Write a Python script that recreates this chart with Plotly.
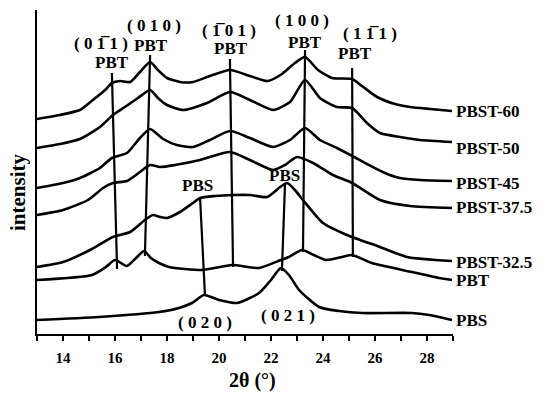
import plotly.graph_objects as go

# ---- data (2theta in degrees, intensity in arbitrary units, stacked) ----
x_60 = [13.00, 13.88, 14.65, 15.15, 15.62, 15.88, 16.19, 16.58, 16.96, 17.35, 17.65, 18.00, 18.50, 19.00,
        19.65, 20.42, 21.19, 21.88, 22.42, 22.92, 23.31, 23.81, 24.35, 25.12, 25.50, 26.08, 26.77, 27.35, 28.12, 28.96]
y_60 = [215, 219, 224, 234, 244, 251, 253, 252, 262, 272, 264, 256, 252, 252,
        258, 264, 258, 253, 260, 271, 277, 264, 256, 255, 248, 237, 230, 227, 225, 223]

x_50 = [13.00, 13.88, 14.65, 15.42, 15.92, 16.38, 16.88, 17.35, 17.65, 18.00, 18.62, 19.54, 20.42, 21.19,
        22.08, 22.73, 23.31, 23.88, 24.54, 25.12, 25.69, 26.19, 26.96, 27.73, 28.96]
y_50 = [186, 190, 195, 207, 219, 227, 236, 244, 236, 229, 224, 231, 242, 234,
        224, 232, 254, 236, 227, 226, 211, 201, 197, 194, 192]

x_45 = [13.00, 14.00, 14.65, 15.42, 15.88, 16.46, 16.96, 17.35, 17.85, 18.38, 19.00, 19.65, 20.42, 21.19,
        22.08, 22.73, 23.31, 23.88, 24.54, 25.12, 25.69, 26.38, 26.96, 27.73, 28.96]
y_45 = [146, 151, 156, 166, 176, 181, 196, 205, 195, 189, 187, 194, 203, 196,
        187, 194, 206, 194, 186, 178, 170, 161, 156, 154, 153]

x_375 = [13.00, 14.00, 14.96, 15.54, 15.92, 16.46, 16.96, 17.35, 17.73, 18.31, 19.27, 20.42, 21.19, 22.08,
         22.54, 23.00, 23.62, 24.38, 25.12, 26.19, 27.35, 28.96]
y_375 = [119, 124, 134, 146, 151, 153, 162, 169, 167, 169, 174, 182, 174, 164,
         169, 177, 171, 159, 151, 134, 128, 126]

x_325 = [13.00, 14.00, 15.04, 15.92, 16.58, 17.15, 17.46, 17.73, 18.00, 18.50, 19.00, 19.27, 19.85, 20.54,
         21.19, 21.85, 22.35, 22.62, 22.92, 23.23, 24.00, 24.92, 26.19, 27.23, 28.96]
y_325 = [67, 72, 84, 97, 102, 114, 119, 117, 116, 122, 131, 136, 138, 139,
         139, 137, 147, 151, 144, 134, 111, 99, 87, 77, 73]

x_pbt = [13.00, 15.12, 15.65, 16.00, 16.46, 16.81, 17.12, 17.38, 17.69, 18.08, 19.35, 20.50, 21.54, 22.38,
         22.69, 23.19, 23.65, 24.12, 24.73, 25.12, 25.88, 27.42, 28.46, 28.96]
y_pbt = [54, 59, 67, 74, 68, 76, 83, 76, 71, 67, 64, 69, 66, 74,
         77, 84, 79, 74, 77, 79, 71, 62, 56, 54]

x_pbs = [13.00, 15.38, 17.69, 18.46, 18.96, 19.42, 20.00, 20.69, 21.54, 22.00, 22.38, 22.69, 23.08, 23.85,
         24.62, 25.50, 27.42, 28.08, 28.96]
y_pbs = [14, 17, 22, 26, 31, 39, 34, 31, 41, 54, 66, 59, 44, 27, 23, 21, 21, 19, 14]

series_names = ["PBST-60", "PBST-50", "PBST-45", "PBST-37.5", "PBST-32.5", "PBT", "PBS"]
series_x = [x_60, x_50, x_45, x_375, x_325, x_pbt, x_pbs]
series_y = [y_60, y_50, y_45, y_375, y_325, y_pbt, y_pbs]

# guide lines through the reflections: (x_top, x_bottom), (y_top, y_bottom)
guide_x = [(15.88, 16.08), (17.35, 17.15), (20.42, 20.54), (23.31, 23.23), (25.12, 25.15),
           (19.27, 19.46), (22.54, 22.42)]
guide_y = [(261, 65), (279, 78), (275, 67), (284, 82), (266, 77),
           (137, 39), (151, 63)]

# reflection labels: text, x, y
hkl_text = ["( 0 1\u0305 1 )", "( 0 1 0 )", "( 1\u0305 0 1 )", "( 1 0 0 )", "( 1 1\u0305 1 )",
            "( 0 2 0 )", "( 0 2 1 )"]
hkl_x = [15.46, 17.50, 20.38, 23.19, 25.81, 19.46, 22.65]
hkl_y = [291, 309, 304, 314, 301, 12, 19]

phase_text = ["PBT", "PBT", "PBT", "PBT", "PBT", "PBS", "PBS"]
phase_x = [15.88, 17.38, 20.46, 23.31, 25.23, 19.19, 22.50]
phase_y = [272, 289, 286, 292, 281, 149, 159]

label_y = [223, 186, 151, 127, 72, 54, 14]

FONT = "Liberation Serif"

fig = go.Figure()
for xs, ys, nm in zip(series_x, series_y, series_names):
    fig.add_trace(go.Scatter(x=xs, y=ys, mode="lines", name=nm,
                             line=dict(color="black", width=2.6, shape="spline", smoothing=0.6),
                             showlegend=False, hoverinfo="skip"))
for gx, gy in zip(guide_x, guide_y):
    fig.add_trace(go.Scatter(x=list(gx), y=list(gy), mode="lines",
                             line=dict(color="black", width=2.2),
                             showlegend=False, hoverinfo="skip"))

ann = []
for t, x, y in zip(hkl_text, hkl_x, hkl_y):
    ann.append(dict(x=x, y=y, xref="x", yref="y", text=t, showarrow=False,
                    font=dict(family=FONT, size=17, color="black", weight="bold")))
for t, x, y in zip(phase_text, phase_x, phase_y):
    ann.append(dict(x=x, y=y, xref="x", yref="y", text=t, showarrow=False,
                    font=dict(family=FONT, size=17, color="black", weight="bold")))
for nm, y in zip(series_names, label_y):
    ann.append(dict(x=29, y=y, xref="x", yref="y", text=nm, showarrow=False,
                    xanchor="left", xshift=1,
                    font=dict(family=FONT, size=17, color="black", weight="bold")))
ann.append(dict(x=21.3, y=0, xref="x", yref="paper", yshift=-46, text="2θ (°)", showarrow=False,
                yanchor="middle", font=dict(family=FONT, size=20, color="black", weight="bold")))
ann.append(dict(x=0, y=142, xref="paper", yref="y", xshift=-19, text="intensity", showarrow=False,
                textangle=-90, xanchor="center", yanchor="middle",
                font=dict(family=FONT, size=21, color="black", weight="bold")))

fig.update_layout(
    width=550, height=393,
    margin=dict(l=37, r=97, t=10, b=59),
    paper_bgcolor="white", plot_bgcolor="white",
    annotations=ann,
    hovermode=False,
    xaxis=dict(range=[13, 29], tick0=0, dtick=2, ticks="outside", ticklen=5, tickwidth=2,
               tickcolor="black", showline=True, linecolor="black", linewidth=2.2,
               showgrid=False, zeroline=False, ticklabelstandoff=4,
               tickfont=dict(family=FONT, size=15, color="black", weight="bold"),
               minor=dict(dtick=1, tick0=0, ticks="outside", ticklen=5, tickwidth=2, tickcolor="black",
                          showgrid=False)),
    yaxis=dict(range=[0, 324], showline=True, linecolor="black", linewidth=2.2,
               showticklabels=False, ticks="", showgrid=False, zeroline=False),
)

fig.write_html("out.html", config={"displayModeBar": False, "staticPlot": True},
               post_script="document.body.style.margin='0px';")
